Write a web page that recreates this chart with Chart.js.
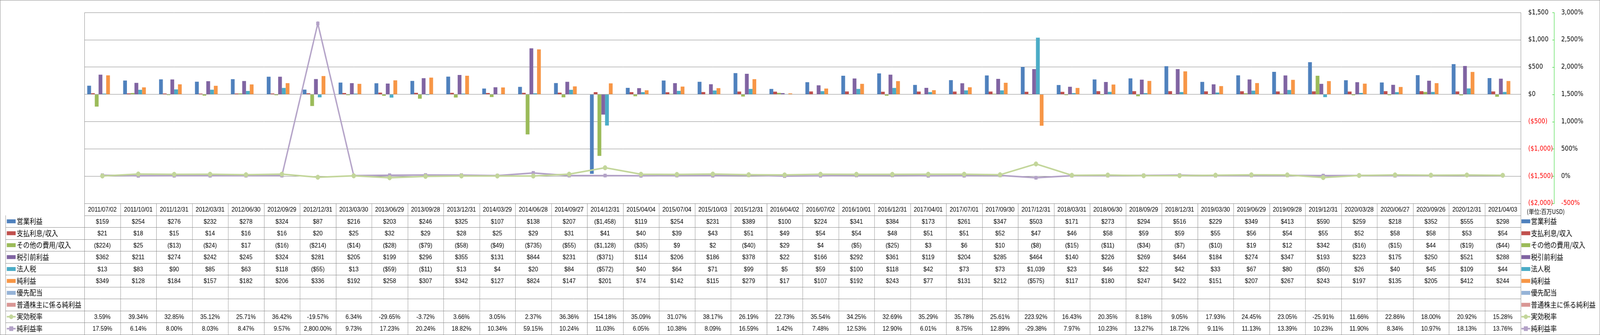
<!DOCTYPE html>
<html>
<head>
<meta charset="utf-8">
<script src="https://cdn.jsdelivr.net/npm/chart.js@4.4.0/dist/chart.umd.min.js"></script>
<style>
  html, body { margin: 0; padding: 0; background: #fff; overflow: hidden; }
  canvas { display: block; }
</style>
</head>
<body>
<canvas id="chart" width="4701" height="858"></canvas>
<script>
// --- DATA ---
const dates = ['2011/07/02','2011/10/01','2011/12/31','2012/03/31','2012/06/30','2012/09/29','2012/12/31','2013/03/30',
  '2013/06/29','2013/09/28','2013/12/31','2014/03/29','2014/06/28','2014/09/27','2014/12/31','2015/04/04',
  '2015/07/04','2015/10/03','2015/12/31','2016/04/02','2016/07/02','2016/10/01','2016/12/31','2017/04/01',
  '2017/07/01','2017/09/30','2017/12/31','2018/03/31','2018/06/30','2018/09/29','2018/12/31','2019/03/30',
  '2019/06/29','2019/09/28','2019/12/31','2020/03/28','2020/06/27','2020/09/26','2020/12/31','2021/04/03'];

const operatingIncome = [159,254,276,232,278,324,87,216,203,246,325,107,138,207,-1458,119,254,231,389,100,
  224,341,384,173,261,347,503,171,273,294,516,229,349,413,590,259,218,352,555,298];
const interestExpense = [21,18,15,14,16,16,20,25,32,29,28,25,29,31,41,40,39,43,51,49,
  54,54,48,51,51,52,47,46,58,59,59,55,56,54,55,52,58,58,53,54];
const otherIncome = [-224,25,-13,-24,17,-16,-214,-14,-28,-79,-58,-49,-735,-55,-1128,-35,9,2,-40,29,
  4,-5,-25,3,6,10,-8,-15,-11,-34,-7,-10,19,12,342,-16,-15,44,-19,-44];
const pretaxIncome = [362,211,274,242,245,324,281,205,199,296,355,131,844,231,-371,114,206,186,378,22,
  166,292,361,119,204,285,464,140,226,269,464,184,274,347,193,223,175,250,521,288];
const incomeTax = [13,83,90,85,63,118,-55,13,-59,-11,13,4,20,84,-572,40,64,71,99,5,
  59,100,118,42,73,73,1039,23,46,22,42,33,67,80,-50,26,40,45,109,44];
const netIncome = [349,128,184,157,182,206,336,192,258,307,342,127,824,147,201,74,142,115,279,17,
  107,192,243,77,131,212,-575,117,180,247,422,151,207,267,243,197,135,205,412,244];
const preferredDividends = dates.map(() => null);
const netIncomeCommon = dates.map(() => null);
const effectiveTaxRate = [3.59,39.34,32.85,35.12,25.71,36.42,-19.57,6.34,-29.65,-3.72,3.66,3.05,2.37,36.36,154.18,35.09,
  31.07,38.17,26.19,22.73,35.54,34.25,32.69,35.29,35.78,25.61,223.92,16.43,20.35,8.18,9.05,17.93,
  24.45,23.05,-25.91,11.66,22.86,18.00,20.92,15.28];
const netMargin = [17.59,6.14,8.00,8.03,8.47,9.57,2800.00,9.73,17.23,20.24,18.82,10.34,59.15,10.24,11.03,6.05,
  10.38,8.09,16.59,1.42,7.48,12.53,12.90,6.01,8.75,12.89,-29.38,7.97,10.23,13.27,18.72,9.11,
  11.13,13.39,10.23,11.90,8.34,10.97,18.13,13.76];

// the viewport can be narrower than the 4701px design: squeeze the canvas to fit it
const canvas = document.getElementById('chart');
canvas.style.width = (window.innerWidth || 4701) + 'px';
canvas.style.height = (window.innerHeight || 858) + 'px';

// --- FORMATTERS ---
const fmtUsd = (v) => {
  if (v === null || v === undefined) return '';
  const s = '$' + Math.abs(v).toLocaleString('en-US');
  return v < 0 ? '(' + s + ')' : s;
};
const fmtPct = (v) => v.toLocaleString('en-US', { minimumFractionDigits: 2, maximumFractionDigits: 2 }) + '%';

const GRID = '#888888';
const RED = '#ff0000';
const JP_FONT = '"Noto Sans CJK JP", sans-serif';
const NUM_FONT = '"Liberation Sans", Arial, sans-serif';

const series = [
  { label: '営業利益', color: '#4F81BD', data: operatingIncome, kind: 'bar' },
  { label: '支払利息/収入', color: '#C0504D', data: interestExpense, kind: 'bar' },
  { label: 'その他の費用/収入', color: '#9BBB59', data: otherIncome, kind: 'bar' },
  { label: '税引前利益', color: '#8064A2', data: pretaxIncome, kind: 'bar' },
  { label: '法人税', color: '#4BACC6', data: incomeTax, kind: 'bar' },
  { label: '純利益', color: '#F79646', data: netIncome, kind: 'bar' },
  { label: '優先配当', color: '#95B3D7', data: preferredDividends, kind: 'bar' },
  { label: '普通株主に係る純利益', color: '#D99694', data: netIncomeCommon, kind: 'bar' },
  { label: '実効税率', color: '#C3D69B', data: effectiveTaxRate, kind: 'line', marker: 'circle' },
  { label: '純利益率', color: '#B3A2C7', data: netMargin, kind: 'line', marker: 'rect' }
];

const datasets = series.map(s => s.kind === 'bar' ? {
  type: 'bar', label: s.label, data: s.data, backgroundColor: s.color, borderWidth: 0,
  yAxisID: 'y', order: 2, barPercentage: 1.0, categoryPercentage: 8 / 9.5
} : {
  type: 'line', label: s.label, data: s.data, borderColor: s.color, backgroundColor: s.color,
  borderWidth: 4, pointStyle: s.marker, pointRadius: 6, pointBorderWidth: 1,
  pointBorderColor: s.color, yAxisID: 'y2', order: 1, tension: 0
});

function drawKey(ctx, s, x, yc) {
  ctx.save();
  if (s.kind === 'bar') {
    ctx.fillStyle = s.color;
    ctx.fillRect(x, yc - 5, 26, 10);
  } else {
    ctx.strokeStyle = s.color;
    ctx.lineWidth = 4;
    ctx.beginPath(); ctx.moveTo(x, yc); ctx.lineTo(x + 26, yc); ctx.stroke();
    ctx.fillStyle = s.color;
    if (s.marker === 'circle') {
      ctx.beginPath(); ctx.arc(x + 13, yc, 6, 0, Math.PI * 2); ctx.fill();
    } else {
      ctx.fillRect(x + 7, yc - 6, 12, 12);
    }
  }
  ctx.restore();
}

// --- DATA TABLE + FRAME PLUGIN ---
const tablePlugin = {
  id: 'dataTable',
  afterDraw(chart) {
    const { ctx, chartArea, scales } = chart;
    const xs = scales.x;
    const n = dates.length;
    const colW = (chartArea.right - chartArea.left) / n;
    const top = chartArea.bottom;
    const rowH = (chart.height - 1 - top) / (series.length + 1);
    const tableLeft = 16;

    ctx.save();
    ctx.strokeStyle = GRID;
    ctx.lineWidth = 1;

    // outer border and left side of the plot frame
    ctx.strokeRect(0.5, 0.5, chart.width - 1, chart.height - 1);
    ctx.beginPath();
    ctx.moveTo(Math.round(chartArea.left) + 0.5, chartArea.top);
    ctx.lineTo(Math.round(chartArea.left) + 0.5, chartArea.bottom);
    ctx.stroke();

    // table grid
    for (let r = 0; r <= series.length + 1; r++) {
      const y = Math.round(top + r * rowH) + 0.5;
      ctx.beginPath();
      ctx.moveTo(r <= 1 ? chartArea.left : tableLeft, y);
      ctx.lineTo(chartArea.right, y);
      ctx.stroke();
    }
    for (let i = 0; i <= n; i++) {
      const x = Math.round(chartArea.left + i * colW) + 0.5;
      ctx.beginPath();
      ctx.moveTo(x, top);
      ctx.lineTo(x, top + (series.length + 1) * rowH);
      ctx.stroke();
    }
    ctx.beginPath();
    ctx.moveTo(tableLeft + 0.5, top + rowH);
    ctx.lineTo(tableLeft + 0.5, top + (series.length + 1) * rowH);
    ctx.stroke();

    // header row with the dates
    ctx.fillStyle = '#000';
    ctx.textAlign = 'center';
    ctx.textBaseline = 'middle';
    ctx.font = '17px ' + NUM_FONT;
    dates.forEach((d, i) => ctx.fillText(d, xs.getPixelForValue(i), top + rowH / 2 + 1));

    // value rows, left keys and right legend
    series.forEach((s, r) => {
      const yc = top + (r + 1.5) * rowH;
      drawKey(ctx, s, 20, yc);
      ctx.textAlign = 'left';
      ctx.font = '19px ' + JP_FONT;
      ctx.fillStyle = '#000';
      ctx.fillText(s.label, 49, yc);
      ctx.textAlign = 'center';
      ctx.font = '17px ' + NUM_FONT;
      s.data.forEach((v, i) => {
        if (v === null) return;
        const txt = s.kind === 'line' ? fmtPct(v) : fmtUsd(v);
        ctx.fillText(txt, xs.getPixelForValue(i), yc + 1);
      });
      drawKey(ctx, s, chartArea.right + 2, yc);
      ctx.textAlign = 'left';
      ctx.font = '19px ' + JP_FONT;
      ctx.fillText(s.label, chartArea.right + 30, yc);
    });

    ctx.font = '16px ' + JP_FONT;
    ctx.textAlign = 'left';
    ctx.fillText('(単位:百万USD)', chartArea.right + 18, top + rowH / 2 + 6);

    // short ticks on the left of the percent axis line
    const y2 = scales.y2;
    ctx.strokeStyle = '#00cc00';
    y2.ticks.forEach(t => {
      const y = Math.round(y2.getPixelForValue(t.value)) + 0.5;
      ctx.beginPath(); ctx.moveTo(y2.left - 5, y); ctx.lineTo(y2.left, y); ctx.stroke();
    });
    ctx.restore();
  }
};

Chart.defaults.font.family = '"DejaVu Sans", Verdana, sans-serif';
Chart.defaults.font.size = 17;
Chart.defaults.color = '#000';

new Chart(canvas, {
  data: { labels: dates, datasets },
  options: {
    responsive: false,
    animation: false,
    devicePixelRatio: 1,
    layout: { padding: { left: 248, top: 13, bottom: 337, right: 35 } },
    plugins: { legend: { display: false }, tooltip: { enabled: false } },
    scales: {
      x: { display: false, grid: { display: false } },
      y: {
        position: 'right', weight: 0, min: -2000, max: 1500,
        afterFit: (s) => { s.width = 98; },
        grid: { color: GRID, drawTicks: false },
        border: { display: true, color: GRID },
        ticks: {
          stepSize: 500, padding: 22,
          callback: (v) => fmtUsd(v),
          color: (c) => c.tick && c.tick.value < 0 ? RED : '#000'
        }
      },
      y2: {
        position: 'right', weight: 1, min: -500, max: 3000,
        afterFit: (s) => { s.width = 100; },
        grid: { display: false, drawTicks: false },
        border: { display: true, color: '#00cc00', dash: [4, 3] },
        ticks: {
          stepSize: 500, padding: 21,
          callback: (v) => v.toLocaleString('en-US') + '%',
          color: (c) => c.tick && c.tick.value < 0 ? RED : '#000'
        }
      }
    }
  },
  plugins: [tablePlugin]
});
</script>
</body>
</html>
